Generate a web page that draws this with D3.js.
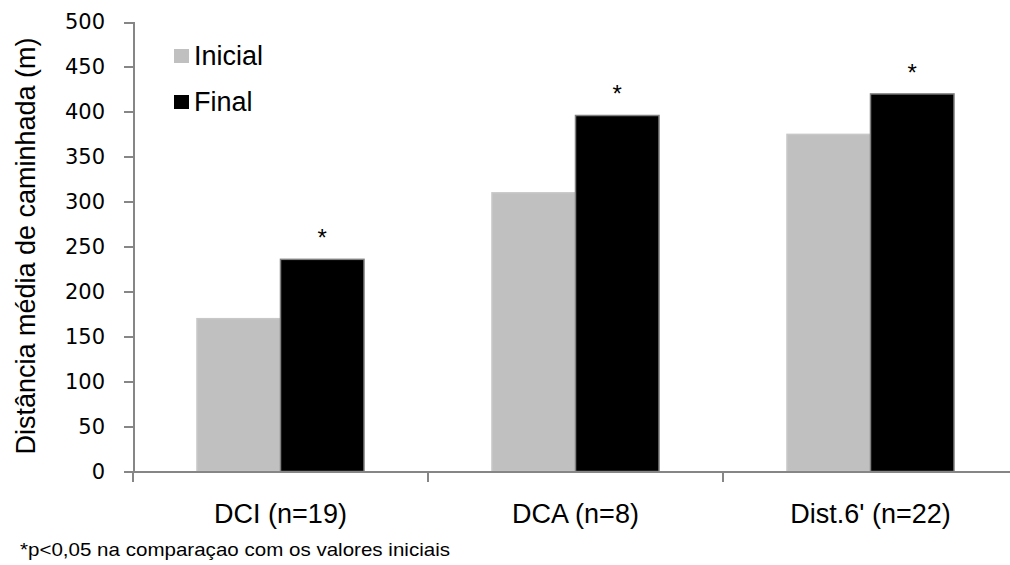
<!DOCTYPE HTML>
<html>
	<head>
        <meta charset='utf-8'>
        <title>Distância média de caminhada</title>
        <script src='https://d3js.org/d3.v7.min.js'></script>
        <style>
            body {
                margin: 0;
                background: #fff;
            }

            .axis path,
            .axis line {
                fill: none;
                stroke: #868686;
                stroke-width: 2px;
                shape-rendering: crispEdges;
            }

            .axis text {
                font: 21px 'DejaVu Sans';
                fill: #000;
            }

            .label {
                font-family: 'Liberation Sans', Arial, sans-serif;
                fill: #000;
            }
        </style>
	</head>
	<body>
        <svg width='1010' height='565' id='walk-graph'></svg>
        <script>
            // values
            var categories = ['DCI (n=19)', 'DCA (n=8)', "Dist.6' (n=22)"];
            var seriesNames = ['Inicial', 'Final'];
            var inicialValues = [170, 310, 375];
            var finalValues = [236, 396, 420];
            var significant = [true, true, true];
            var yTicks = [0, 50, 100, 150, 200, 250, 300, 350, 400, 450, 500];
            var yTitle = 'Distância média de caminhada (m)';
            var footnote = '*p<0,05 na comparaçao com os valores iniciais';

            var seriesColors = {'Inicial': '#c0c0c0', 'Final': '#000000'};
            var seriesStroke = {'Inicial': '#c8c8c8', 'Final': '#808080'};

            var svg = d3.select('svg#walk-graph');

            var plot = {left: 133, top: 22, bottom: 471.5, step: 295};

            var x0 = d3.scaleBand()
                .domain(categories)
                .range([plot.left, plot.left + plot.step * categories.length]);

            var x1 = d3.scaleBand()
                .domain(seriesNames)
                .range([0, x0.bandwidth()])
                .paddingOuter(0.766);

            var y = d3.scaleLinear()
                .domain([0, 500])
                .range([plot.bottom, plot.top]);

            var data = categories.map(function(c, i) {
                return {
                    category: c,
                    values: [
                        {series: 'Inicial', value: inicialValues[i]},
                        {series: 'Final', value: finalValues[i]}
                    ],
                    star: significant[i]
                };
            });

            // bars
            var groups = svg.selectAll('.group')
                .data(data)
                .enter().append('g')
                .attr('class', 'group')
                .attr('transform', function(d) { return 'translate(' + x0(d.category) + ',0)'; });

            groups.selectAll('rect')
                .data(function(d) { return d.values; })
                .enter().append('rect')
                .attr('x', function(d) { return x1(d.series); })
                .attr('y', function(d) { return y(d.value); })
                .attr('width', x1.bandwidth())
                .attr('height', function(d) { return y(0) - y(d.value); })
                .attr('fill', function(d) { return seriesColors[d.series]; })
                .attr('stroke', function(d) { return seriesStroke[d.series]; })
                .attr('stroke-width', 1.5);

            // significance stars above the Final bars
            groups.filter(function(d) { return d.star; })
                .append('text')
                .attr('class', 'label')
                .attr('x', x1('Final') + x1.bandwidth() / 2)
                .attr('y', function(d) { return y(d.values[1].value) - 13; })
                .attr('text-anchor', 'middle')
                .style('font-size', '24px')
                .text('*');

            // y axis
            svg.append('g')
                .attr('class', 'axis axis--y')
                .attr('transform', 'translate(' + plot.left + ',0)')
                .call(d3.axisLeft(y).tickValues(yTicks).tickSize(9).tickSizeOuter(9).tickPadding(19));

            // x axis: baseline runs off the right edge, ticks on category boundaries
            var xAxis = svg.append('g').attr('class', 'axis axis--x');

            xAxis.append('line')
                .attr('x1', plot.left)
                .attr('x2', 1010)
                .attr('y1', y(0))
                .attr('y2', y(0));

            xAxis.selectAll('.tick')
                .data(categories)
                .enter().append('line')
                .attr('x1', function(d) { return x0(d); })
                .attr('x2', function(d) { return x0(d); })
                .attr('y1', y(0))
                .attr('y2', y(0) + 10);

            svg.selectAll('.cat-label')
                .data(categories)
                .enter().append('text')
                .attr('class', 'label cat-label')
                .attr('x', function(d) { return x0(d) + x0.bandwidth() / 2; })
                .attr('y', 523)
                .attr('text-anchor', 'middle')
                .style('font-size', '27px')
                .text(function(d) { return d; });

            // y title
            svg.append('text')
                .attr('class', 'label')
                .attr('transform', 'translate(35,246) rotate(-90)')
                .attr('text-anchor', 'middle')
                .style('font-size', '27px')
                .text(yTitle);

            // legend
            var legend = svg.selectAll('.legend')
                .data(seriesNames)
                .enter().append('g')
                .attr('class', 'legend')
                .attr('transform', function(d, i) { return 'translate(174,' + (49 + i * 46) + ')'; });

            legend.append('rect')
                .attr('width', 15)
                .attr('height', 14)
                .attr('fill', function(d) { return seriesColors[d]; });

            legend.append('text')
                .attr('class', 'label')
                .attr('x', 20)
                .attr('y', 16)
                .style('font-size', '27px')
                .text(function(d) { return d; });

            // footnote
            svg.append('text')
                .attr('class', 'label')
                .attr('x', 20)
                .attr('y', 556)
                .attr('textLength', 430)
                .attr('lengthAdjust', 'spacingAndGlyphs')
                .style('font-size', '19px')
                .text(footnote);
        </script>
	</body>
</html>
